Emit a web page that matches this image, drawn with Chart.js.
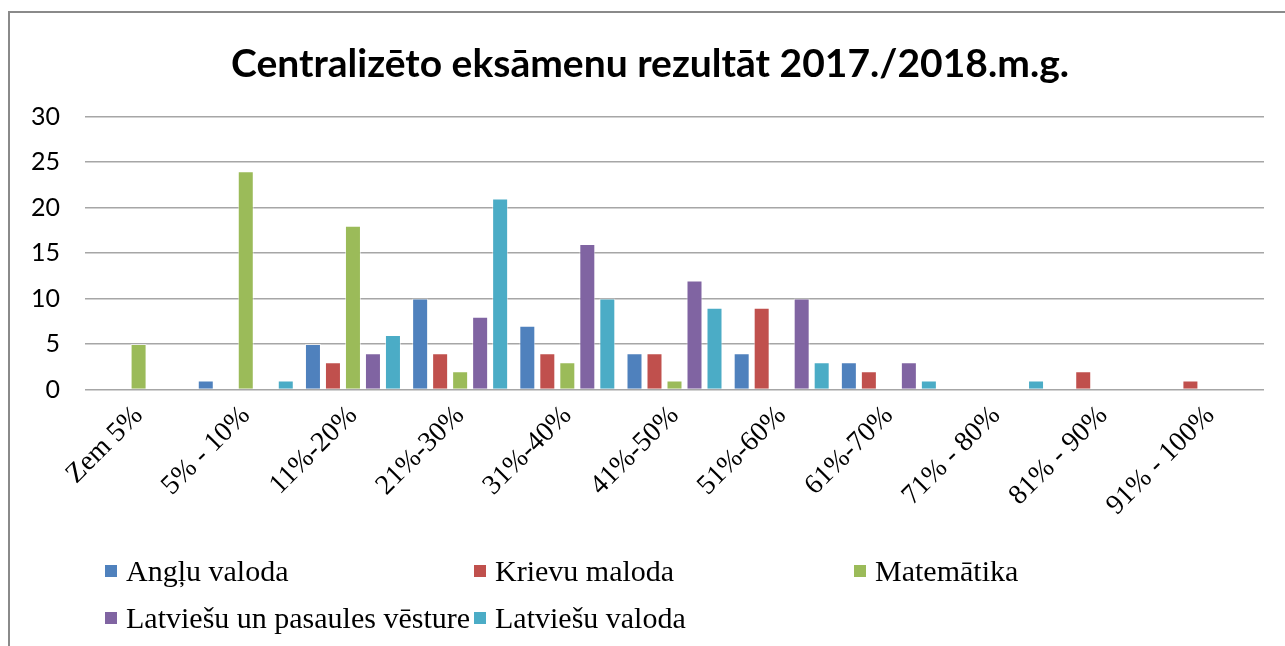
<!DOCTYPE html>
<html>
<head>
<meta charset="utf-8">
<script src="https://cdn.jsdelivr.net/npm/chart.js@4"></script>
<style>
    body { margin: 0; background: #fff; overflow: hidden; }
    #wrap { position: relative; width: 1285px; height: 646px; }
    #frame { position: absolute; left: 8px; top: 11px; width: 1300px; height: 700px; border: 2px solid #8a8a8a; }
    #resultChart { position: absolute; left: 0; top: 0; }
    #title { position: absolute; left: 150px; width: 1000px; top: 38px; height: 48px; line-height: 48px; text-align: center;
             font-family: Lato, sans-serif; font-weight: bold; font-size: 39px; color: #000; white-space: nowrap; }
    #legend { position: absolute; left: 0; top: 0; font-family: "Liberation Serif", "Times New Roman", serif; font-size: 30px; color: #000; }
    .item { position: absolute; display: flex; align-items: center; white-space: nowrap; height: 40px; }
    .box { width: 12px; height: 12px; margin-right: 9px; }
</style>
</head>
<body>
<div id="wrap">
    <div id="frame"></div>
    <canvas id="resultChart" width="1285" height="646"></canvas>
    <div id="title"></div>
    <div id="legend"></div>
</div>
<script>
const chartTitle = 'Centralizēto eksāmenu rezultāt 2017./2018.m.g.';

// Kategorijas (rezultātu intervāli)
const categories = ['Zem 5%', '5% - 10%', '11%-20%', '21%-30%', '31%-40%', '41%-50%', '51%-60%', '61%-70%', '71% - 80%', '81% - 90%', '91% - 100%'];

// Skolēnu skaits katrā intervālā
const angluValoda = [0, 1, 5, 10, 7, 4, 4, 3, 0, 0, 0];
const krievuValoda = [0, 0, 3, 4, 4, 4, 9, 2, 0, 2, 1];
const matematika = [5, 24, 18, 2, 3, 1, 0, 0, 0, 0, 0];
const vesture = [0, 0, 4, 8, 16, 12, 10, 3, 0, 0, 0];
const latviesuValoda = [0, 1, 6, 21, 10, 9, 3, 1, 1, 0, 0];

const seriesNames = ['Angļu valoda', 'Krievu maloda', 'Matemātika', 'Latviešu un pasaules vēsture', 'Latviešu valoda'];
const seriesColors = ['#4F81BD', '#C0504D', '#9BBB59', '#8064A2', '#4BACC6'];
const yTicks = [0, 5, 10, 15, 20, 25, 30];

const allSeries = [angluValoda, krievuValoda, matematika, vesture, latviesuValoda];

const datasets = allSeries.map((values, i) => ({
    label: seriesNames[i],
    data: values.map(v => v === 0 ? null : v),
    backgroundColor: seriesColors[i],
    borderColor: 'rgba(255,255,255,0.55)',
    borderWidth: 1,
    categoryPercentage: 0.933,
    barPercentage: 0.8
}));

document.getElementById('title').textContent = chartTitle;

const ctx = document.getElementById('resultChart').getContext('2d');
window.myChart = new Chart(ctx, {
    type: 'bar',
    data: {
        labels: categories,
        datasets: datasets
    },
    options: {
        responsive: false,
        animation: false,
        layout: {
            padding: { top: 116.7, left: 0, right: 21, bottom: 0 }
        },
        plugins: {
            legend: { display: false },
            tooltip: { enabled: false },
            title: { display: false }
        },
        scales: {
            x: {
                grid: { display: false, drawTicks: false },
                border: { display: false },
                ticks: {
                    color: '#000',
                    maxRotation: 45,
                    minRotation: 45,
                    padding: 10,
                    font: { family: 'Liberation Serif', size: 28 }
                },
                afterFit: function (scale) {
                    scale.height = 646 - 389.5;
                }
            },
            y: {
                min: 0,
                max: 30,
                afterBuildTicks: function (scale) {
                    scale.ticks = yTicks.map(v => ({ value: v }));
                },
                grid: { color: '#a6a6a6', lineWidth: 1.5, drawTicks: false },
                border: { display: false },
                ticks: {
                    color: '#000',
                    padding: 25,
                    font: { family: 'Lato', size: 25 }
                },
                afterFit: function (scale) {
                    scale.width = 85;
                }
            }
        }
    }
});

// Legende trīs kolonnās, kā oriģinālā
const legendPos = [
    { left: 105, top: 551 },
    { left: 474, top: 551 },
    { left: 854, top: 551 },
    { left: 105, top: 598 },
    { left: 474, top: 598 }
];
const legendEl = document.getElementById('legend');
window.myChart.data.datasets.forEach((ds, i) => {
    const item = document.createElement('div');
    item.className = 'item';
    item.style.left = legendPos[i].left + 'px';
    item.style.top = legendPos[i].top + 'px';
    const box = document.createElement('span');
    box.className = 'box';
    box.style.background = ds.backgroundColor;
    const txt = document.createElement('span');
    txt.textContent = ds.label;
    item.appendChild(box);
    item.appendChild(txt);
    legendEl.appendChild(item);
});
</script>
</body>
</html>
